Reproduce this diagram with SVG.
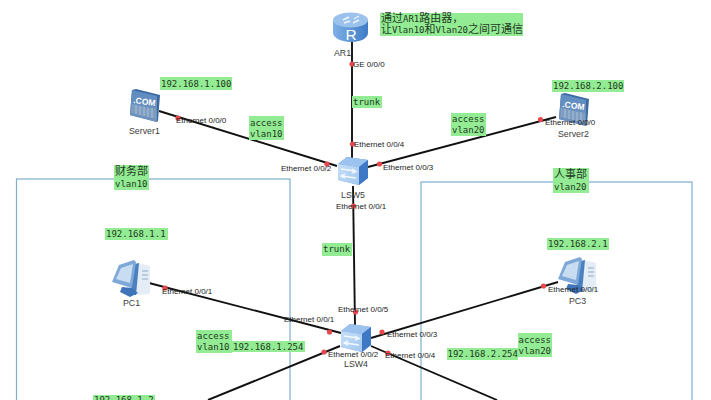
<svg xmlns="http://www.w3.org/2000/svg" width="711" height="400" viewBox="0 0 711 400">
<style>
.bg{fill:#fff}
.zone{fill:none;stroke:#7fb0cf;stroke-width:1.2}
.link{stroke:#111;stroke-width:1.9;fill:none}
.dot{fill:#e8474c}
.port{font:8px "Liberation Sans",Arial,sans-serif;fill:#222}
.name{font:8.800px "Liberation Sans",Arial,sans-serif;fill:#3c3c3c}
.hl{fill:#93ec93}
.note{font:9px "DejaVu Sans Mono","Liberation Mono",monospace;fill:#1f3a1f}
.cjk{font:11px "Noto Sans CJK SC",sans-serif;fill:#1f3a1f}
.com{font:bold 8.500px "Liberation Sans",Arial,sans-serif;fill:#fff}
</style>
<defs>
<linearGradient id="gBlue" x1="0" y1="0" x2="0" y2="1"><stop offset="0" stop-color="#5f8cc2"/><stop offset="1" stop-color="#6f92bb"/></linearGradient>
<linearGradient id="gSw" x1="0" y1="0" x2="1" y2="1"><stop offset="0" stop-color="#c6def7"/><stop offset="1" stop-color="#a3c8f0"/></linearGradient>
<linearGradient id="gR" x1="0" y1="0" x2="1" y2="0"><stop offset="0" stop-color="#7db0e6"/><stop offset="1" stop-color="#3f7cc6"/></linearGradient>
<g id="sw">
<path d="M1 8 L10 1 L31 4 L31 22 L22 29 L1 24Z" fill="#5e93d6"/>
<path d="M1 8 L10 1 L31 4 L22 11Z" fill="#9cc3ee"/>
<path d="M1 8 L22 11 L22 29 L1 24Z" fill="url(#gSw)"/>
<path d="M22 11 L31 4 L31 22 L22 29Z" fill="#3f78c4"/>
<path d="M4 13 L18 15 M15 13 L19 15.500 L15 17 M19 22 L5 20 M8 18 L4 20 L8 22" stroke="#f2f8ff" stroke-width="1.400" fill="none"/>
</g>
<g id="srv">
<path d="M2 1 L6 0 L30 6 L28 32 L27 33 L0 26Z" fill="#3b6aa3"/>
<path d="M2 1 L27 7 L27 33 L0 26Z" fill="url(#gBlue)"/>
<path d="M2 15 L26 20 L26 30 L1 24Z" fill="#7f9dc1"/>
<path d="M6 16 V25 M10 17 V26 M14 18 V27 M18 19 V28 M22 19 V29" stroke="#a9c0da" stroke-width="1"/>
<text class="com" x="3" y="14" transform="rotate(8 3 14)">.COM</text>
</g>
<g id="pc">
<path d="M26 3 L38 6 L38 34 L24 35Z" fill="#e4ecf5"/>
<path d="M27 3 L24 35 L19 35 L18 5Z" fill="#4a7fc0"/>
<path d="M7 5 L22 0 L24 2 L20 28 L0 22Z" fill="#7ea8d8"/>
<path d="M9 8 L21 4 L18 23 L4 19Z" fill="#c8dcf2"/>
<path d="M10 27 L20 28 L26 33 L18 37 L8 32Z" fill="#3f74b8"/>
<path d="M30 11 H36 M30 15 H36 M30 19 H36" stroke="#8fa9c6" stroke-width="1"/>
</g>
</defs>
<rect class="bg" width="711" height="400"/>
<rect class="zone" x="16.500" y="179" width="273.500" height="240"/>
<rect class="zone" x="421" y="182" width="271" height="240"/>
<g id="connectors">
<path class="link" d="M352 42V160"/>
<path class="link" d="M159 111L337 166"/>
<path class="link" d="M368 167L556 117"/>
<path class="link" d="M353 186L355 325"/>
<path class="link" d="M149 283L341 333"/>
<path class="link" d="M558 282L371 338"/>
<path class="link" d="M340 346L208 400"/>
<path class="link" d="M371 346L497 400"/>
<g class="dot">
<circle cx="352" cy="64" r="2.600"/><circle cx="352.500" cy="144" r="2.600"/>
<circle cx="178" cy="118" r="2.600"/><circle cx="327" cy="164" r="2.600"/>
<circle cx="379.500" cy="164" r="2.600"/><circle cx="540.500" cy="119.500" r="2.600"/>
<circle cx="353.500" cy="206" r="2.600"/><circle cx="355.500" cy="312" r="2.600"/>
<circle cx="165" cy="288" r="2.600"/><circle cx="329.500" cy="332" r="2.600"/>
<circle cx="543.500" cy="286" r="2.600"/><circle cx="382" cy="332" r="2.600"/>
<circle cx="324" cy="352" r="2.600"/><circle cx="388" cy="353" r="2.600"/>
</g>
</g>
<g id="AR1">
<path d="M333 20 V33 C333 38 342 42 351 42 C361 42 368 38 368 33 V20Z" fill="url(#gR)"/>
<ellipse cx="350.500" cy="20" rx="17.500" ry="7.500" fill="#9bc2ec"/>
<path d="M343 20 L349 17 M353 23 L359 20 M344 23 L350 21 M354 19 L359 16" stroke="#eef5fc" stroke-width="1.400"/>
<text x="345.500" y="40" style="font:15.500px 'Liberation Sans',Arial,sans-serif;fill:#fff">R</text>
<text class="name" x="334" y="56">AR1</text>
</g>
<g id="Server1"><use href="#srv" x="130" y="89"/><text class="name" x="129" y="134">Server1</text></g>
<g id="Server2"><use href="#srv" x="559" y="93"/><text class="name" x="558" y="137">Server2</text></g>
<g id="LSW5"><use href="#sw" x="337" y="156"/><text class="name" x="341" y="198">LSW5</text></g>
<g id="LSW4"><use href="#sw" x="340" y="323"/><text class="name" x="344" y="367">LSW4</text></g>
<g id="PC1"><use href="#pc" x="112" y="260"/><text class="name" x="123" y="306">PC1</text></g>
<g id="PC3"><use href="#pc" x="558" y="257"/><text class="name" x="569" y="304">PC3</text></g>
<g id="ports">
<text class="port" x="176" y="123">Ethernet 0/0/0</text>
<text class="port" x="281" y="171">Ethernet 0/0/2</text>
<text class="port" x="353" y="67">GE 0/0/0</text>
<text class="port" x="354" y="147">Ethernet 0/0/4</text>
<text class="port" x="383" y="170">Ethernet 0/0/3</text>
<text class="port" x="545" y="125">Ethernet 0/0/0</text>
<text class="port" x="336" y="209">Ethernet 0/0/1</text>
<text class="port" x="162" y="294">Ethernet 0/0/1</text>
<text class="port" x="284" y="322">Ethernet 0/0/1</text>
<text class="port" x="338" y="312">Ethernet 0/0/5</text>
<text class="port" x="387" y="337">Ethernet 0/0/3</text>
<text class="port" x="385" y="358">Ethernet 0/0/4</text>
<text class="port" x="328" y="357">Ethernet 0/0/2</text>
<text class="port" x="548" y="292">Ethernet 0/0/1</text>
</g>
<g id="notes">
<rect class="hl" x="380" y="13" width="143" height="23"/>
<text class="cjk" x="381" y="22">通过<tspan class="note">AR1</tspan>路由器，</text>
<text class="cjk" x="381" y="33">让<tspan class="note">Vlan10</tspan>和<tspan class="note">Vlan20</tspan>之间可通信</text>
<rect class="hl" x="160" y="77" width="72" height="13"/><text class="note" x="161" y="86.500">192.168.1.100</text>
<rect class="hl" x="249" y="116" width="35" height="24"/><text class="note" x="250" y="125.500">access</text><text class="note" x="250" y="136.500">vlan10</text>
<rect class="hl" x="352" y="96" width="30" height="12"/><text class="note" x="353" y="105">trunk</text>
<rect class="hl" x="451" y="113" width="35" height="23"/><text class="note" x="452" y="122">access</text><text class="note" x="452" y="133">vlan20</text>
<rect class="hl" x="552" y="80" width="72" height="12"/><text class="note" x="553" y="89">192.168.2.100</text>
<rect class="hl" x="114" y="165" width="35" height="25"/><text class="cjk" x="115" y="175">财务部</text><text class="note" x="115" y="186.500">vlan10</text>
<rect class="hl" x="553" y="168" width="36" height="25"/><text class="cjk" x="554" y="178">人事部</text><text class="note" x="554" y="190">vlan20</text>
<rect class="hl" x="105" y="228" width="63" height="12"/><text class="note" x="106" y="236.500">192.168.1.1</text>
<rect class="hl" x="322" y="243" width="30" height="13"/><text class="note" x="323" y="252">trunk</text>
<rect class="hl" x="196" y="330" width="36" height="23"/><text class="note" x="197" y="339">access</text><text class="note" x="197" y="350">vlan10</text>
<rect class="hl" x="232" y="341" width="73" height="11"/><text class="note" x="233" y="349.500">192.168.1.254</text>
<rect class="hl" x="93" y="395" width="62" height="12"/><text class="note" x="94" y="403">192.168.1.2</text>
<rect class="hl" x="547" y="238" width="62" height="12"/><text class="note" x="548" y="246.500">192.168.2.1</text>
<rect class="hl" x="447" y="348" width="71" height="12"/><text class="note" x="447.500" y="356.500">192.168.2.254</text>
<rect class="hl" x="518" y="333" width="34" height="24"/><text class="note" x="518.500" y="342.500">access</text><text class="note" x="518.500" y="353.500">vlan20</text>
</g>
</svg>
